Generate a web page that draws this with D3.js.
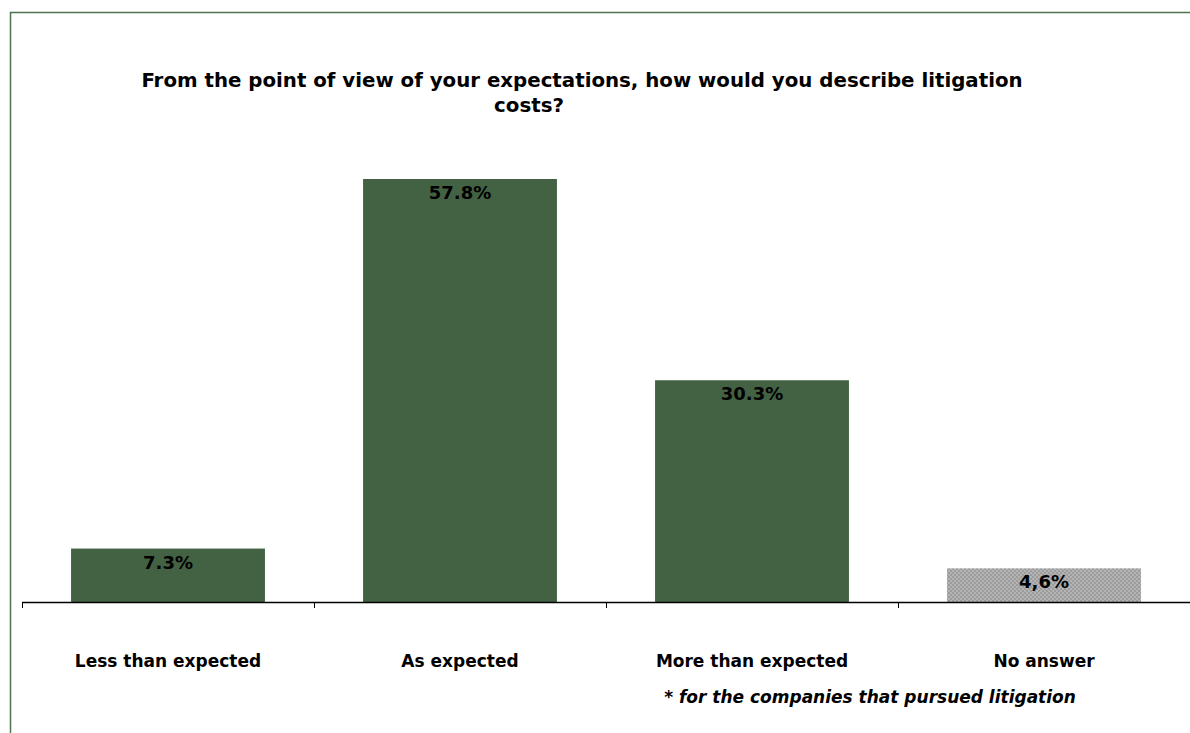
<!DOCTYPE html>
<html>
<head>
<meta charset="utf-8">
<script src="https://cdn.jsdelivr.net/npm/d3@7"></script>
<style>
  html, body { margin: 0; padding: 0; background: #fff; }
  svg { display: block; }
  text { font-family: "DejaVu Sans", Verdana, sans-serif; font-weight: bold; fill: #000; }
</style>
</head>
<body>
<svg id="chart" width="1190" height="733"></svg>
<script>
// Survey answers: share of respondents per category (%)
const categories = ["Less than expected", "As expected", "More than expected", "No answer"];
const values = [7.3, 57.8, 30.3, 4.6];
const valueLabels = ["7.3%", "57.8%", "30.3%", "4,6%"];
const titleLines = ["From the point of view of your expectations, how would you describe litigation", "costs?"];
const footnote = "* for the companies that pursued litigation";

const svg = d3.select("#chart");
const W = 1190, H = 733;

// Outer frame (top and left edges visible)
svg.append("path")
  .attr("d", `M10.5,${H} L10.5,12.5 L${W},12.5`)
  .attr("fill", "none")
  .attr("stroke", "#4d7350")
  .attr("stroke-width", 1.5);

// Dithered grey fill for the "No answer" bar
const defs = svg.append("defs");
const pat = defs.append("pattern")
  .attr("id", "dither")
  .attr("width", 4).attr("height", 4)
  .attr("patternUnits", "userSpaceOnUse");
pat.append("rect").attr("width", 4).attr("height", 4).attr("fill", "#b4b4b4");
pat.append("rect").attr("width", 2).attr("height", 2).attr("fill", "#9c9c9c");
pat.append("rect").attr("x", 2).attr("y", 2).attr("width", 2).attr("height", 2).attr("fill", "#9c9c9c");

const plot = { left: 22, right: 1190, top: 179, bottom: 602 };

const x = d3.scaleBand()
  .domain(categories)
  .range([plot.left, plot.right])
  .paddingInner(0.336)
  .paddingOuter(0.168);

const y = d3.scaleLinear()
  .domain([0, 57.8])
  .range([plot.bottom, plot.top]);

// Bars
svg.append("g").selectAll("rect")
  .data(categories)
  .join("rect")
  .attr("x", d => x(d))
  .attr("width", x.bandwidth())
  .attr("y", (d, i) => y(values[i]))
  .attr("height", (d, i) => y(0) - y(values[i]))
  .attr("fill", (d, i) => i === 3 ? "url(#dither)" : "#436243");

// Value labels inside the top of each bar
svg.append("g").selectAll("text")
  .data(categories)
  .join("text")
  .attr("x", d => x(d) + x.bandwidth() / 2)
  .attr("y", (d, i) => y(values[i]) + 20)
  .attr("text-anchor", "middle")
  .style("font-size", "18px")
  .text((d, i) => valueLabels[i]);

// Category axis: baseline with ticks at band boundaries
const axisG = svg.append("g");
axisG.append("line")
  .attr("x1", plot.left).attr("x2", plot.right)
  .attr("y1", plot.bottom + 0.5).attr("y2", plot.bottom + 0.5)
  .attr("stroke", "#000").attr("stroke-width", 1.5);
const step = x.step();
axisG.selectAll("line.tick")
  .data(d3.range(categories.length))
  .join("line")
  .attr("class", "tick")
  .attr("x1", i => plot.left + i * step + 0.5)
  .attr("x2", i => plot.left + i * step + 0.5)
  .attr("y1", plot.bottom)
  .attr("y2", plot.bottom + 6)
  .attr("stroke", "#000").attr("stroke-width", 1);

axisG.selectAll("text")
  .data(categories)
  .join("text")
  .attr("x", d => x(d) + x.bandwidth() / 2)
  .attr("y", 667)
  .attr("text-anchor", "middle")
  .style("font-size", "17px")
  .text(d => d);

// Title
const titleX = [582, 529];
const titleY = [87, 112];
svg.append("g").selectAll("text")
  .data(titleLines)
  .join("text")
  .attr("x", (d, i) => titleX[i])
  .attr("y", (d, i) => titleY[i])
  .attr("text-anchor", "middle")
  .style("font-size", "19.8px")
  .text(d => d);

// Footnote
svg.append("text")
  .attr("x", 870)
  .attr("y", 703)
  .attr("text-anchor", "middle")
  .style("font-size", "17px")
  .style("font-style", "italic")
  .text(footnote);
</script>
</body>
</html>
